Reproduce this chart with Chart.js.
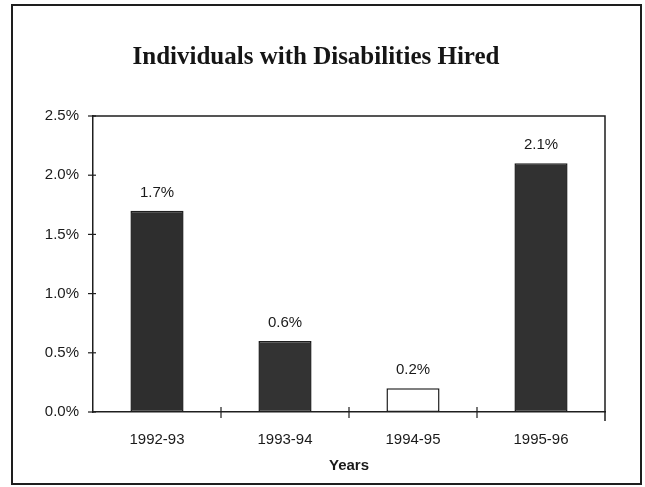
<!DOCTYPE html>
<html>
<head>
<meta charset="utf-8">
<script src="https://cdn.jsdelivr.net/npm/chart.js@4.4.1/dist/chart.umd.min.js"></script>
<style>
  html, body { margin: 0; padding: 0; background: #fff; }
  #wrap { width: 645px; height: 487px; position: relative; }
</style>
</head>
<body>
<div id="wrap"><canvas id="c" width="645" height="487"></canvas></div>
<script>
// Share of new hires who were individuals with disabilities, by fiscal year
const chartTitle = 'Individuals with Disabilities Hired';
const years = ['1992-93', '1993-94', '1994-95', '1995-96'];
const hiredPct = [1.7, 0.6, 0.2, 2.1];
const barFills = ['#2e2e2e', '#333333', '#ffffff', '#313131'];
const yTicks = [0, 0.5, 1.0, 1.5, 2.0, 2.5];
const xAxisTitle = 'Years';

const INK = '#1e1e1e';
const SANS = '"Liberation Sans", Arial, sans-serif';

// Page frame, title, plot box, tick marks and value labels
const decor = {
  id: 'decor',
  afterDraw(chart) {
    const ctx = chart.ctx;
    const a = chart.chartArea;
    const xs = chart.scales.x, ys = chart.scales.y;
    ctx.save();
    // outer frame
    ctx.strokeStyle = INK;
    ctx.lineWidth = 2;
    ctx.strokeRect(12, 5, 629, 479);
    // title
    ctx.fillStyle = '#151515';
    ctx.font = 'bold 25px "Liberation Serif", "DejaVu Serif", serif';
    ctx.textAlign = 'center';
    ctx.textBaseline = 'middle';
    ctx.fillText(chartTitle, 316, 58);
    // plot box (top and right sides)
    ctx.lineWidth = 1.5;
    ctx.beginPath();
    ctx.moveTo(a.left, a.top);
    ctx.lineTo(a.right, a.top);
    ctx.lineTo(a.right, a.bottom + 9);
    ctx.stroke();
    // y tick marks crossing the axis
    ctx.lineWidth = 1.2;
    yTicks.forEach(v => {
      const y = ys.getPixelForValue(v);
      ctx.beginPath();
      ctx.moveTo(a.left - 5, y);
      ctx.lineTo(a.left + 3, y);
      ctx.stroke();
    });
    // x tick marks between categories
    for (let i = 1; i < years.length; i++) {
      const x = (xs.getPixelForValue(i - 1) + xs.getPixelForValue(i)) / 2;
      ctx.beginPath();
      ctx.moveTo(x, a.bottom - 5);
      ctx.lineTo(x, a.bottom + 6);
      ctx.stroke();
    }
    // value labels above bars
    ctx.fillStyle = '#1a1a1a';
    ctx.font = '15px ' + SANS;
    ctx.textBaseline = 'alphabetic';
    const meta = chart.getDatasetMeta(0);
    meta.data.forEach((bar, i) => {
      ctx.fillText(hiredPct[i].toFixed(1) + '%', bar.x, bar.y - 14);
    });
    ctx.restore();
  }
};

new Chart(document.getElementById('c'), {
  type: 'bar',
  data: {
    labels: years,
    datasets: [{
      data: hiredPct,
      backgroundColor: barFills,
      borderColor: INK,
      borderWidth: 1.5,
      borderSkipped: false,
      barPercentage: 0.415,
      categoryPercentage: 1.0
    }]
  },
  options: {
    responsive: false,
    animation: false,
    layout: { padding: { left: 40, right: 40, top: 116, bottom: 12 } },
    plugins: {
      legend: { display: false },
      tooltip: { enabled: false },
      title: { display: false }
    },
    scales: {
      x: {
        grid: { display: false },
        border: { display: true, color: INK, width: 1.5 },
        ticks: {
          color: '#1a1a1a',
          padding: 11,
          font: { family: SANS, size: 15 }
        },
        title: {
          display: true,
          text: xAxisTitle,
          color: '#1a1a1a',
          padding: { top: 0, bottom: 0 },
          font: { family: SANS, size: 15, weight: 'bold' }
        },
        afterFit(scale) { scale.height = 63; }
      },
      y: {
        min: 0,
        max: 2.5,
        grid: { display: false },
        border: { display: true, color: INK, width: 1.5 },
        afterBuildTicks(scale) { scale.ticks = yTicks.map(v => ({ value: v })); },
        ticks: {
          color: '#1a1a1a',
          padding: 6,
          callback: v => Number(v).toFixed(1) + '%',
          font: { family: SANS, size: 15 }
        },
        afterFit(scale) { scale.width = 53; }
      }
    }
  },
  plugins: [decor]
});
</script>
</body>
</html>
